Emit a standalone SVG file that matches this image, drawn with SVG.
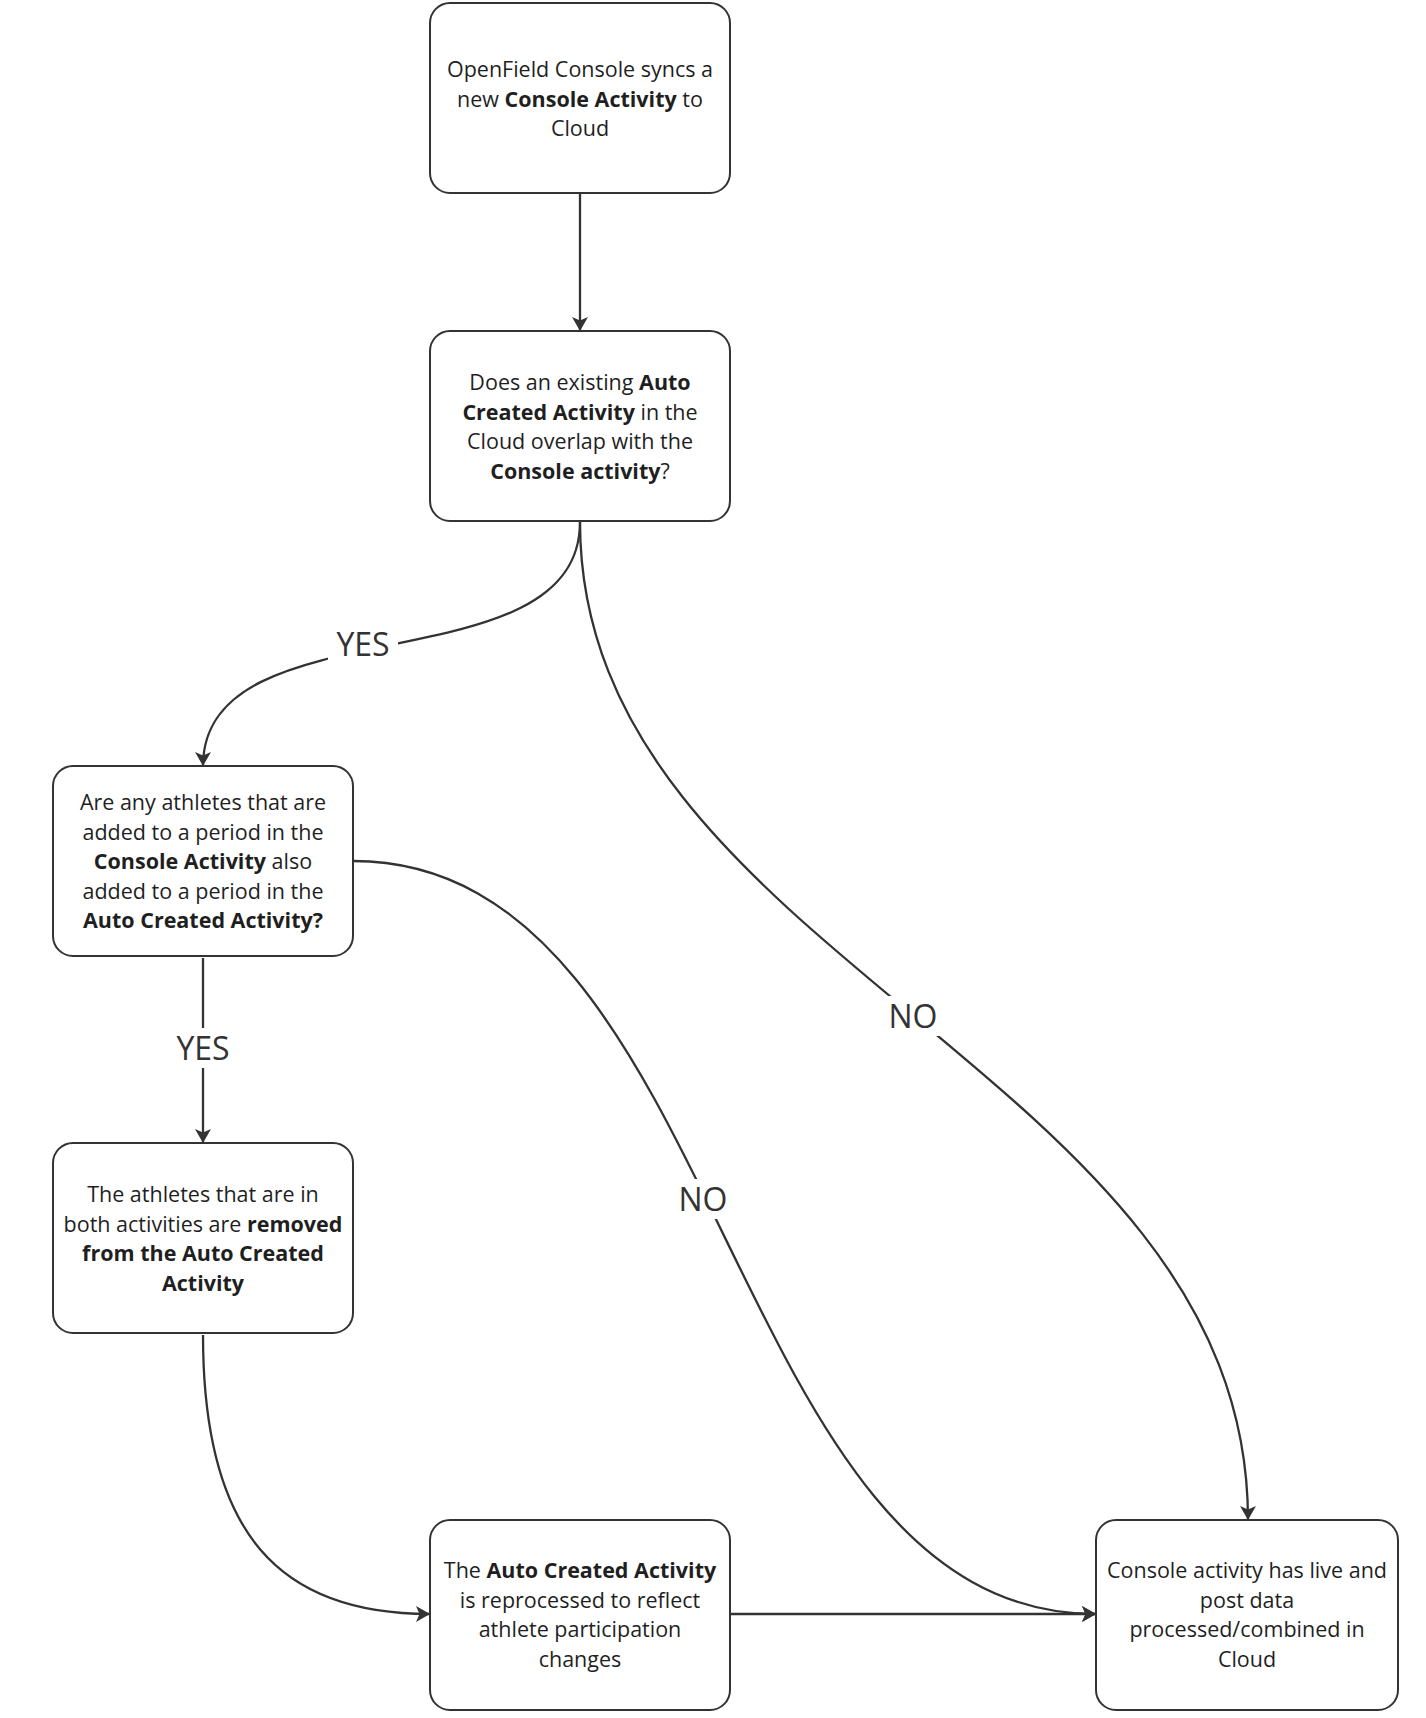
<svg xmlns="http://www.w3.org/2000/svg" width="1426" height="1718" viewBox="0 0 1426 1718">
<style>
.box{fill:#ffffff;stroke:#333333;stroke-width:2}
.t{font-family:"Open Sans","Noto Sans","DejaVu Sans",sans-serif;font-size:21.5px;fill:#1f1f1f;text-anchor:middle}
.b{font-weight:700}
.c{fill:none;stroke:#333333;stroke-width:2.3}
.lbl{font-family:"Open Sans","Noto Sans","DejaVu Sans",sans-serif;font-size:32px;fill:#333333;text-anchor:middle}
.bg{fill:#ffffff}
</style>
<defs>
<marker id="ah" viewBox="0 0 14 16" refX="14" refY="8" markerWidth="14" markerHeight="16" markerUnits="userSpaceOnUse" orient="auto">
<path d="M0,0 L14,8 L0,16 L3.5,8 Z" fill="#333333"/>
</marker>
</defs>
<rect width="1426" height="1718" fill="#ffffff"/>
<g id="connectors">
<path class="c" d="M580,194 L580,331" marker-end="url(#ah)"/>
<path class="c" d="M580,522 C580,690 203,600 203,766" marker-end="url(#ah)"/>
<path class="c" d="M580,522 C580,960 1248,1069 1248,1520" marker-end="url(#ah)"/>
<path class="c" d="M353,861 C730,861 720,1614 1096,1614" marker-end="url(#ah)"/>
<path class="c" d="M203,958 L203,1143" marker-end="url(#ah)"/>
<path class="c" d="M203,1335 C203,1535 280,1614 430,1614" marker-end="url(#ah)"/>
<path class="c" d="M730,1614 L1096,1614" marker-end="url(#ah)"/>
<rect class="bg" x="328" y="624" width="70" height="40"/>
<text class="lbl" x="363" y="656">YES</text>
<rect class="bg" x="168" y="1028" width="70" height="40"/>
<text class="lbl" x="203" y="1060">YES</text>
<rect class="bg" x="883" y="996" width="60" height="40"/>
<text class="lbl" x="913" y="1028">NO</text>
<rect class="bg" x="673" y="1179" width="60" height="40"/>
<text class="lbl" x="703" y="1211">NO</text>
</g>
<g id="node1">
<rect class="box" x="430" y="3" width="300" height="190" rx="20"/>
<text class="t" x="580" y="77">OpenField Console syncs a</text>
<text class="t" x="580" y="106.5">new <tspan class="b">Console Activity</tspan> to</text>
<text class="t" x="580" y="136">Cloud</text>
</g>
<g id="node2">
<rect class="box" x="430" y="331" width="300" height="190" rx="20"/>
<text class="t" x="580" y="390">Does an existing <tspan class="b">Auto</tspan></text>
<text class="t" x="580" y="419.6"><tspan class="b">Created Activity</tspan> in the</text>
<text class="t" x="580" y="449.2">Cloud overlap with the</text>
<text class="t" x="580" y="478.8"><tspan class="b">Console activity</tspan>?</text>
</g>
<g id="node3">
<rect class="box" x="53" y="766" width="300" height="190" rx="20"/>
<text class="t" x="203" y="810">Are any athletes that are</text>
<text class="t" x="203" y="839.6">added to a period in the</text>
<text class="t" x="203" y="869.2"><tspan class="b">Console Activity</tspan> also</text>
<text class="t" x="203" y="898.8">added to a period in the</text>
<text class="t" x="203" y="928.4"><tspan class="b">Auto Created Activity?</tspan></text>
</g>
<g id="node4">
<rect class="box" x="53" y="1143" width="300" height="190" rx="20"/>
<text class="t" x="203" y="1202">The athletes that are in</text>
<text class="t" x="203" y="1231.6">both activities are <tspan class="b">removed</tspan></text>
<text class="t" x="203" y="1261.2"><tspan class="b">from the Auto Created</tspan></text>
<text class="t" x="203" y="1290.8"><tspan class="b">Activity</tspan></text>
</g>
<g id="node5">
<rect class="box" x="430" y="1520" width="300" height="190" rx="20"/>
<text class="t" x="580" y="1578">The <tspan class="b">Auto Created Activity</tspan></text>
<text class="t" x="580" y="1607.6">is reprocessed to reflect</text>
<text class="t" x="580" y="1637.2">athlete participation</text>
<text class="t" x="580" y="1666.8">changes</text>
</g>
<g id="node6">
<rect class="box" x="1096" y="1520" width="302" height="190" rx="20"/>
<text class="t" x="1247" y="1578">Console activity has live and</text>
<text class="t" x="1247" y="1607.6">post data</text>
<text class="t" x="1247" y="1637.2">processed/combined in</text>
<text class="t" x="1247" y="1666.8">Cloud</text>
</g>
</svg>
